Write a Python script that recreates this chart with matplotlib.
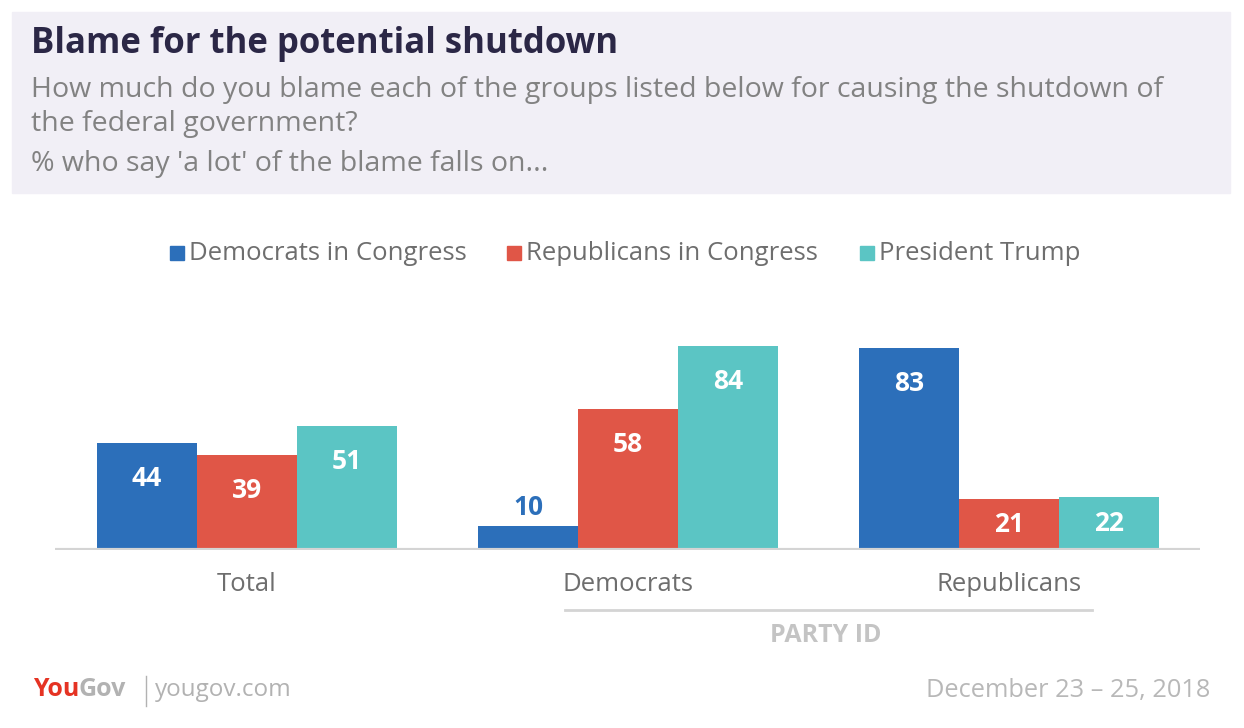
import numpy as np
import matplotlib.pyplot as plt
from matplotlib.patches import Rectangle

plt.rcParams['font.family'] = ['Open Sans', 'DejaVu Sans']

groups = ['Total', 'Democrats', 'Republicans']
series = ['Democrats in Congress', 'Republicans in Congress', 'President Trump']
dems_congress = [44, 10, 83]
reps_congress = [39, 58, 21]
trump = [51, 84, 22]
colors = ['#2c6fba', '#e05647', '#5bc5c4']

W, H = 1244, 728
fig = plt.figure(figsize=(W / 100, H / 100), dpi=100)

def fx(px):
    return px / W

def fy(py):
    return 1 - py / H

# header box
fig.patches.append(Rectangle((fx(12), fy(193)), fx(1218), 181 / H,
                             transform=fig.transFigure, color='#f1eff6', zorder=0))
fig.text(fx(31), fy(44), 'Blame for the potential shutdown', fontsize=25, fontweight='bold',
         color='#2b2746', va='center')
sub = '#828282'
fig.text(fx(31), fy(90), 'How much do you blame each of the groups listed below for causing the shutdown of',
         fontsize=20.5, color=sub, va='center')
fig.text(fx(31), fy(124), 'the federal government?', fontsize=20.5, color=sub, va='center')
fig.text(fx(31), fy(164), "% who say 'a lot' of the blame falls on...", fontsize=20.5,
         color=sub, va='center')

# legend
leg_x = [170, 507, 860]
for lx, name, c in zip(leg_x, series, colors):
    fig.patches.append(Rectangle((fx(lx), fy(260)), fx(14), 14 / H,
                                 transform=fig.transFigure, color=c))
    fig.text(fx(lx + 19), fy(254), name, fontsize=18.5, color='#6e6e6e', va='center')

# bars
ax = fig.add_axes([fx(55), fy(550), fx(1145), 243 / H])
x = np.arange(len(groups))
w = 100 / 381
for i, (vals, c) in enumerate(zip([dems_congress, reps_congress, trump], colors)):
    pos = x + (i - 1) * w
    ax.bar(pos, vals, width=w, color=c, zorder=2)
    for p, v in zip(pos, vals):
        if v < 15:
            ax.text(p, v + 2.0, str(v), ha='center', va='bottom', fontsize=19,
                    fontweight='bold', color=c)
        else:
            ty = max(v - 14.5, v / 2)
            ax.text(p, ty, str(v), ha='center', va='center', fontsize=19,
                    fontweight='bold', color='white')

ax.set_xlim((55 - 247) / 381, (1200 - 247) / 381)
ax.set_ylim(0, 100)
ax.axhline(0, color='#d4d4d4', lw=3, zorder=3)
for s in ax.spines.values():
    s.set_visible(False)
ax.set_xticks(x)
ax.set_xticklabels(groups, fontsize=18.5, color='#6e6e6e')
ax.tick_params(axis='x', length=0, pad=16)
ax.set_yticks([])
ax.patch.set_alpha(0)

# party id bracket
fig.add_artist(plt.Line2D([fx(565), fx(1092)], [fy(610), fy(610)],
                          transform=fig.transFigure, color='#d4d4d4', lw=2))
fig.text(fx(826), fy(636), 'PARTY ID', fontsize=18, fontweight='bold', color='#c4c4c4',
         ha='center', va='center')

# footer
fig.text(fx(33), fy(690), 'You', fontsize=18, fontweight='bold', color='#e53323', va='center')
fig.text(fx(78), fy(690), 'Gov', fontsize=18, fontweight='bold', color='#b2b2b2', va='center')
fig.add_artist(plt.Line2D([fx(146), fx(146)], [fy(676), fy(706)],
                          transform=fig.transFigure, color='#b2b2b2', lw=1))
fig.text(fx(155), fy(690), 'yougov.com', fontsize=17.5, color='#b2b2b2', va='center')
fig.text(fx(1210), fy(690), 'December 23 \u2013 25, 2018', fontsize=18.3, color='#b8b8b8',
         ha='right', va='center')

fig.savefig('out.png', dpi=100, facecolor='white')
